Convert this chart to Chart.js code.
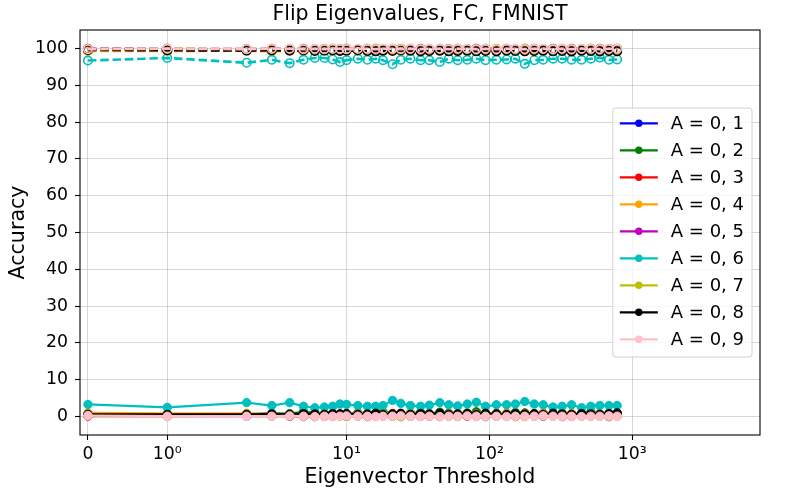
<!DOCTYPE html>
<html>
<head>
<meta charset="utf-8">
<script src="https://cdn.jsdelivr.net/npm/chart.js@4.4.1/dist/chart.umd.min.js"></script>
<style>
html,body{margin:0;padding:0;background:#ffffff;}
#wrap{width:800px;height:500px;}
</style>
</head>
<body>
<div id="wrap"><canvas id="c" width="800" height="500"></canvas></div>
<script>
// ---------- data ----------
const xThresholds = [0,1,2,3,4,5,6,7,8,9,
  10,12,14,16,18,21,24,28,33,38,
  45,52,60,70,81,94,112,132,152,177,
  206,238,279,323,376,442,513,593,687,784];
const xLimits = [-0.1, 7840];
const xTickValues = [0, 1, 10, 100, 1000];
const xTickLabels = ['0', '10\u2070', '10\u00b9', '10\u00b2', '10\u00b3'];
const yLimits = [-5, 105];
const yTickValues = [0,10,20,30,40,50,60,70,80,90,100];

const seriesLabels = ['A = 0, 1','A = 0, 2','A = 0, 3','A = 0, 4','A = 0, 5','A = 0, 6','A = 0, 7','A = 0, 8','A = 0, 9'];
const seriesColors = ['#0000ff','#008000','#ff0000','#ffa500','#bf00bf','#00bfbf','#bfbf00','#000000','#ffc0cb'];

// solid lines (filled markers) - low accuracy
const low1 = [0.3,0.2,0.3,0.3,0.2,0.3,0.2,0.3,0.4,0.2, 0.3,0.2,0.3,0.4,0.2,0.3,0.3,0.2,0.3,0.4, 0.2,0.3,0.3,0.2,0.4,0.2,0.3,0.3,0.2,0.3, 0.4,0.2,0.3,0.2,0.3,0.4,0.2,0.3,0.3,0.2];
const low2 = [0.6,0.5,0.7,0.9,0.8,1.3,1.0,0.8,0.9,0.7, 0.8,1.0,0.7,0.9,1.2,0.8,0.7,1.0,1.1,0.8, 1.2,0.9,0.8,1.0,1.3,0.7,0.9,0.8,1.1,1.0, 0.8,0.9,0.7,1.0,0.8,0.9,1.2,0.8,0.9,0.7];
const low3 = [0.5,0.6,0.6,0.8,0.5,0.6,0.7,0.5,0.6,0.7, 0.6,0.5,0.7,0.6,0.5,0.8,0.6,0.5,0.7,0.6, 0.5,0.6,0.7,0.6,0.5,0.6,0.8,0.6,0.5,0.6, 0.7,0.6,0.5,0.6,0.7,0.6,0.5,0.6,0.7,0.6];
const low4 = [1.0,0.9,0.9,0.7,0.6,0.7,0.6,0.8,0.7,0.6, 0.7,0.8,0.6,0.7,0.8,0.6,0.7,0.9,0.7,0.6, 0.8,0.7,0.9,0.6,0.7,0.8,0.7,1.0,0.7,0.8, 0.6,1.0,0.7,0.8,0.9,0.7,0.8,0.7,0.6,0.8];
const low5 = [0.1,0.1,0.1,0.1,0.1,0.0,0.0,0.1,0.1,0.1, 0.1,0.1,0.0,0.1,0.1,0.1,0.0,0.1,0.1,0.1, 0.0,0.1,0.1,0.1,0.1,0.0,0.1,0.1,0.0,0.1, 0.1,0.1,0.1,0.0,0.1,0.1,0.1,0.1,0.0,0.1];
const low6 = [3.3,2.5,3.8,3.0,3.8,2.8,2.4,2.6,2.8,3.4, 3.3,3.0,2.8,2.8,3.0,4.4,3.6,3.0,2.8,3.1, 3.8,3.2,2.9,3.4,3.9,2.8,3.2,3.2,3.4,4.1, 3.4,3.2,2.6,2.8,3.2,2.4,2.8,3.0,3.0,3.0];
const low7 = [0.2,0.1,0.2,0.1,0.2,0.1,0.0,0.1,0.2,0.1, 0.1,0.2,0.1,0.1,0.2,0.1,0.0,0.1,0.1,0.2, 0.1,0.1,0.0,0.2,0.1,0.1,0.2,0.1,0.1,0.0, 0.1,0.2,0.1,0.1,0.1,0.2,0.1,0.1,0.1,0.1];
const low8 = [0.6,0.6,0.6,0.7,0.6,0.8,0.7,0.6,0.8,0.7, 0.8,0.6,0.7,0.9,0.6,0.7,0.9,0.6,0.8,0.7, 0.9,0.6,0.7,0.8,0.6,0.9,0.7,0.6,0.8,0.7, 0.8,0.6,0.9,0.7,0.6,0.8,0.7,0.6,0.8,1.0];
const low9 = [0.3,0.1,0.1,0.1,0.2,0.1,0.0,0.1,0.1,0.1, 0.2,0.1,0.1,0.0,0.1,0.1,0.2,0.1,0.1,0.1, 0.0,0.1,0.1,0.2,0.1,0.1,0.1,0.0,0.1,0.1, 0.1,0.2,0.1,0.1,0.1,0.0,0.1,0.1,0.2,0.1];

// dashed lines (hollow markers) - high accuracy
const high1 = [99.8,99.8,99.7,99.8,99.8,99.7,99.8,99.8,99.7,99.8, 99.8,99.7,99.8,99.8,99.7,99.8,99.8,99.7,99.8,99.8, 99.7,99.8,99.8,99.7,99.8,99.8,99.7,99.8,99.8,99.7, 99.8,99.8,99.7,99.8,99.8,99.7,99.8,99.8,99.7,99.8];
const high2 = [99.6,99.5,99.6,99.4,99.5,99.3,99.5,99.6,99.4,99.5, 99.4,99.6,99.5,99.4,99.3,99.5,99.6,99.4,99.5,99.3, 99.4,99.5,99.6,99.4,99.3,99.5,99.4,99.6,99.5,99.4, 99.5,99.4,99.6,99.5,99.3,99.5,99.4,99.5,99.6,99.4];
const high3 = [99.7,99.4,99.6,99.7,99.6,99.5,99.7,99.6,99.7,99.5, 99.6,99.7,99.6,99.5,99.7,99.6,99.5,99.7,99.6,99.7, 99.5,99.6,99.7,99.6,99.5,99.7,99.6,99.5,99.7,99.6, 99.7,99.5,99.6,99.7,99.6,99.5,99.7,99.6,99.5,99.6];
const high4 = [99.3,99.3,99.4,99.2,99.4,99.3,99.5,99.4,99.3,99.4, 99.5,99.3,99.4,99.2,99.4,99.5,99.3,99.4,99.3,99.5, 99.4,99.3,99.2,99.4,99.5,99.3,99.4,99.3,99.5,99.4, 99.3,99.4,99.5,99.3,99.2,99.4,99.3,99.5,99.4,99.3];
const high5 = [99.9,99.9,99.8,99.9,99.8,99.9,99.7,99.8,99.9,99.6, 99.9,99.8,99.9,99.9,99.8,99.9,99.8,99.9,99.9,99.8, 99.9,99.8,99.9,99.8,99.9,99.9,99.8,99.9,99.8,99.9, 99.9,99.8,99.9,99.8,99.9,99.8,99.9,99.9,99.8,99.9];
const high6 = [96.7,97.4,96.1,96.9,96.0,96.9,97.4,97.4,97.0,96.3, 96.8,97.2,96.9,97.2,96.8,95.7,96.9,97.2,96.8,96.8, 96.3,97.2,96.8,96.9,97.2,96.8,96.9,97.0,97.2,95.8, 96.8,96.9,97.2,97.2,96.9,96.9,97.2,97.5,96.9,97.0];
const high7 = [99.8,99.9,99.8,99.8,99.9,99.8,99.7,99.9,99.8,99.8, 99.9,99.7,99.8,99.9,99.8,99.8,99.9,99.8,99.7,99.9, 99.8,99.8,99.9,99.8,99.7,99.8,99.9,99.8,99.8,99.9, 99.8,99.7,99.8,99.9,99.8,99.8,99.9,99.8,99.8,99.7];
const high8 = [99.6,99.5,99.4,99.5,99.4,99.5,99.3,99.4,99.5,99.3, 99.4,99.5,99.3,99.2,99.4,99.3,99.5,99.4,99.2,99.3, 99.4,99.2,99.3,99.4,99.2,99.3,99.2,99.4,99.3,99.2, 99.3,99.4,99.2,99.3,99.2,99.4,99.3,99.2,99.3,99.2];
const high9 = [99.8,99.9,99.8,99.9,99.9,99.8,99.9,99.8,99.9,99.9, 99.8,99.9,99.9,99.8,99.9,99.9,99.8,99.9,99.8,99.9, 99.9,99.8,99.9,99.9,99.8,99.9,99.8,99.9,99.9,99.8, 99.9,99.9,99.8,99.9,99.8,99.9,99.9,99.8,99.9,99.9];

const lowSeries = [low1,low2,low3,low4,low5,low6,low7,low8,low9];
const highSeries = [high1,high2,high3,high4,high5,high6,high7,high8,high9];

// ---------- symlog transform (linthresh=2, base 10, linscale=1) ----------
const LINTHRESH = 2;
const LINSCALE_ADJ = 1 / (1 - 1 / 10);
function symlog(v) {
  const a = Math.abs(v);
  if (a <= LINTHRESH) return v * LINSCALE_ADJ;
  return Math.sign(v) * LINTHRESH * (LINSCALE_ADJ + Math.log10(a / LINTHRESH));
}

const FONT = "'DejaVu Sans', 'Liberation Sans', sans-serif";

// ---------- datasets ----------
const datasets = [];
let k = 0;
for (let i = 0; i < seriesLabels.length; i++) {
  const c = seriesColors[i];
  datasets.push({
    label: seriesLabels[i],
    data: xThresholds.map((x, j) => ({x: symlog(x), y: lowSeries[i][j]})),
    borderColor: c, backgroundColor: c,
    borderWidth: 2.2, tension: 0,
    pointRadius: 4.2, pointBorderWidth: 1,
    pointBackgroundColor: c, pointBorderColor: c,
    order: 100 - (k++)
  });
  datasets.push({
    label: seriesLabels[i] + ' (dashed)',
    data: xThresholds.map((x, j) => ({x: symlog(x), y: highSeries[i][j]})),
    borderColor: c, backgroundColor: 'rgba(0,0,0,0)',
    borderWidth: 2.6, borderDash: [8.5, 3.8], tension: 0,
    pointRadius: 4.2, pointBorderWidth: 1.6,
    pointBackgroundColor: 'rgba(0,0,0,0)', pointBorderColor: c,
    order: 100 - (k++)
  });
}

// ---------- plugins ----------
const framePlugin = {
  id: 'frame',
  afterDatasetsDraw(chart) {
    const {ctx, chartArea: a} = chart;
    ctx.save();
    ctx.strokeStyle = '#000';
    ctx.lineWidth = 1.1;
    ctx.strokeRect(a.left, a.top, a.right - a.left, a.bottom - a.top);
    ctx.restore();
  }
};

const legendPlugin = {
  id: 'mplLegend',
  afterDraw(chart) {
    const {ctx, chartArea: a} = chart;
    ctx.save();
    ctx.font = '18px ' + FONT;
    let maxW = 0;
    seriesLabels.forEach(t => { maxW = Math.max(maxW, ctx.measureText(t).width); });
    const rowH = 27, padL = 7, handle = 38, gap = 13, padR = 8, firstRow = 15.3;
    const w = padL + handle + gap + maxW + padR;
    const h = 249;
    const x0 = a.right - 8 - w;
    const y0 = (a.top + a.bottom) / 2 - h / 2;
    // box
    const r = 3;
    ctx.beginPath();
    ctx.moveTo(x0 + r, y0);
    ctx.lineTo(x0 + w - r, y0);
    ctx.quadraticCurveTo(x0 + w, y0, x0 + w, y0 + r);
    ctx.lineTo(x0 + w, y0 + h - r);
    ctx.quadraticCurveTo(x0 + w, y0 + h, x0 + w - r, y0 + h);
    ctx.lineTo(x0 + r, y0 + h);
    ctx.quadraticCurveTo(x0, y0 + h, x0, y0 + h - r);
    ctx.lineTo(x0, y0 + r);
    ctx.quadraticCurveTo(x0, y0, x0 + r, y0);
    ctx.closePath();
    ctx.fillStyle = 'rgba(255,255,255,0.8)';
    ctx.fill();
    ctx.strokeStyle = 'rgba(204,204,204,0.9)';
    ctx.lineWidth = 1;
    ctx.stroke();
    // entries
    ctx.textBaseline = 'middle';
    ctx.textAlign = 'left';
    seriesLabels.forEach((t, i) => {
      const cy = y0 + firstRow + rowH * i;
      const lx = x0 + padL;
      ctx.strokeStyle = seriesColors[i];
      ctx.lineWidth = 2.2;
      ctx.beginPath();
      ctx.moveTo(lx, cy);
      ctx.lineTo(lx + handle, cy);
      ctx.stroke();
      ctx.fillStyle = seriesColors[i];
      ctx.beginPath();
      ctx.arc(lx + handle / 2, cy, 3.7, 0, Math.PI * 2);
      ctx.fill();
      ctx.fillStyle = '#000';
      ctx.fillText(t, lx + handle + gap, cy + 1);
    });
    ctx.restore();
  }
};

// ---------- chart ----------
const gridOpts = {
  color: 'rgba(176,176,176,0.5)',
  lineWidth: 1,
  drawTicks: true,
  tickLength: 5,
  tickColor: '#000',
  tickWidth: 1.1
};

new Chart(document.getElementById('c'), {
  type: 'line',
  data: {datasets},
  plugins: [framePlugin, legendPlugin],
  options: {
    responsive: false,
    animation: false,
    devicePixelRatio: 1,
    layout: {padding: {left: 0, right: 40, top: 0, bottom: 0}},
    plugins: {
      legend: {display: false},
      tooltip: {enabled: false},
      title: {
        display: true,
        text: 'Flip Eigenvalues, FC, FMNIST',
        color: '#000',
        fullSize: false,
        font: {family: FONT, size: 20.5, weight: 'normal', lineHeight: 1.2},
        padding: {top: 2.5, bottom: 2.9}
      }
    },
    scales: {
      x: {
        type: 'linear',
        min: symlog(xLimits[0]),
        max: symlog(xLimits[1]),
        afterBuildTicks(s) { s.ticks = xTickValues.map(v => ({value: symlog(v)})); },
        afterFit(s) { s.height = 65; },
        ticks: {
          color: '#000',
          font: {family: FONT, size: 17.3},
          padding: 4.5,
          maxRotation: 0,
          autoSkip: false,
          callback(value) {
            const idx = xTickValues.findIndex(v => Math.abs(symlog(v) - value) < 1e-6);
            return idx >= 0 ? xTickLabels[idx] : '';
          }
        },
        grid: gridOpts,
        border: {display: false},
        title: {
          display: true,
          text: 'Eigenvector Threshold',
          color: '#000',
          font: {family: FONT, size: 20.6, lineHeight: 1.2},
          padding: {top: 0, bottom: 9.5}
        }
      },
      y: {
        type: 'linear',
        min: yLimits[0],
        max: yLimits[1],
        afterBuildTicks(s) { s.ticks = yTickValues.map(v => ({value: v})); },
        afterFit(s) { s.width = 80; },
        ticks: {
          color: '#000',
          font: {family: FONT, size: 17.3},
          padding: 7,
          callback(value) { return String(value); }
        },
        grid: gridOpts,
        border: {display: false},
        title: {
          display: true,
          text: 'Accuracy',
          color: '#000',
          font: {family: FONT, size: 20.6, lineHeight: 1.2},
          padding: {top: 6, bottom: 0}
        }
      }
    }
  }
});
</script>
</body>
</html>
